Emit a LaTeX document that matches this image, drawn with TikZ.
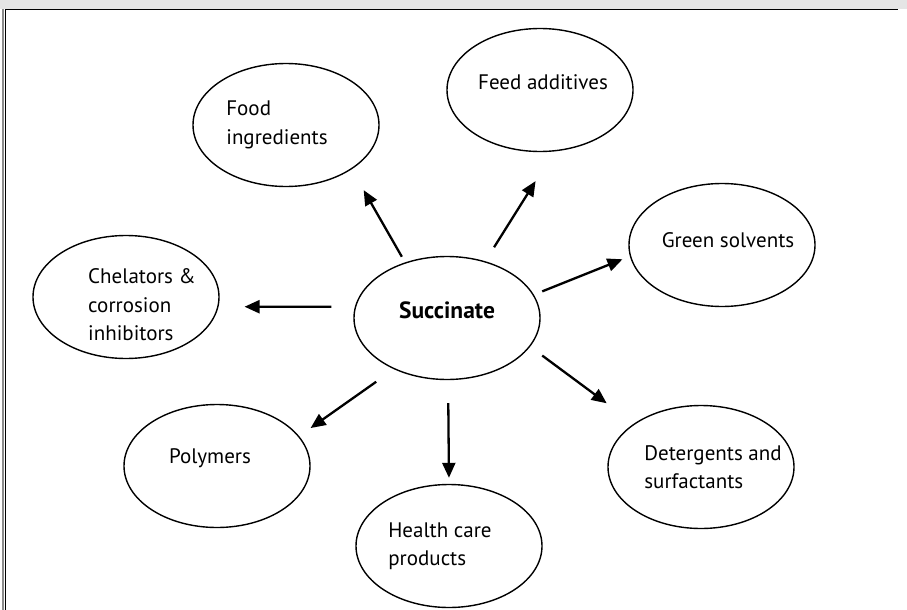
\documentclass[tikz,border=0pt]{standalone}
\usepackage{fontspec}
\setmainfont{PT Sans}
\usetikzlibrary{shapes.geometric,arrows.meta}

\begin{document}
\begin{tikzpicture}[x=1pt, y=-1pt,
  bubble/.style={ellipse, draw=black, line width=1.4pt, minimum width=186pt, minimum height=123pt, inner sep=0pt},
  lbl/.style={align=left, font=\fontsize{21}{28.5}\selectfont, inner sep=0pt},
  arr/.style={line width=2.3pt, -{Triangle[length=15pt,width=13pt]}}]

\useasboundingbox (0,0) rectangle (907,610);

% page frame
\fill[black!10] (0,0) rectangle (907,9);
\draw[line width=1.3pt] (5,9.5) -- (898,9.5);
\draw[black!45, line width=1.2pt] (3,9.5) -- (3,610);
\draw[line width=1.3pt] (5.5,9.5) -- (5.5,610);

\node (succinate) [bubble, label={[lbl, font=\fontsize{23.5}{28}\selectfont\bfseries, yshift=8pt]center:Succinate}] at (447,318) {};
\node (food) [bubble, label={[lbl, xshift=-9pt]center:Food\\ingredients}] at (286,125) {};
\node (feed) [bubble, label={[lbl, xshift=3pt, yshift=8pt]center:Feed additives}] at (540,90) {};
\node (green) [bubble, label={[lbl, xshift=6pt, yshift=5pt]center:Green solvents}] at (722,245) {};
\node (chelators) [bubble, label={[lbl, xshift=16pt, yshift=-8pt]center:Chelators \&\\corrosion\\inhibitors}] at (126,297) {};
\node (polymers) [bubble, label={[lbl, xshift=-7pt, yshift=8pt]center:Polymers}] at (217,466) {};
\node (health) [bubble, label={[lbl, xshift=-9pt]center:Health care\\products}] at (449,546) {};
\node (detergents) [bubble, label={[lbl, xshift=12pt]center:Detergents and\\surfactants}] at (701,467) {};

\draw[arr, shorten <=6.5pt, shorten >=24pt] (succinate.127.5) -- (food.-34.8);
\draw[arr, shorten <=16.5pt, shorten >=35pt] (succinate.56.3) -- (feed.-77.6);
\draw[arr, shorten <=9pt, shorten >=8pt] (succinate.15.8) -- (green.187.5);
\draw[arr, shorten <=23.5pt, shorten >=26pt] (succinate.173.1) -- (chelators.-6.2);
\draw[arr, shorten <=21.7pt, shorten >=14pt] (succinate.224.7) -- (polymers.20.2);
\draw[arr, shorten <=23pt, shorten >=6pt] (succinate.-89.5) -- (health.north);
\draw[arr, shorten <=15pt, shorten >=34pt] (succinate.-19.8) -- (detergents.147.5);

\end{tikzpicture}
\end{document}
